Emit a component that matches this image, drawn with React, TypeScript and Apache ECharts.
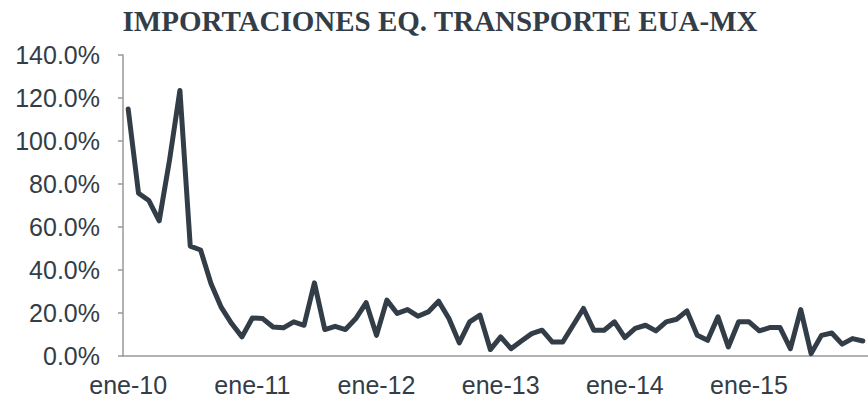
import React, { useEffect, useRef } from "react";
import * as echarts from "echarts";

const months = ["ene", "feb", "mar", "abr", "may", "jun", "jul", "ago", "sep", "oct", "nov", "dic"];
const years = ["10", "11", "12", "13", "14", "15"];
const categories: string[] = years.flatMap((y) => months.map((m) => `${m}-${y}`));

const values2010 = [114.9, 75.7, 72.3, 62.9, 91.2, 123.5, 51.1, 49.3, 33.7, 22.6, 15.1, 8.9];
const values2011 = [17.7, 17.4, 13.5, 13.1, 15.9, 14.3, 34.0, 12.3, 13.8, 12.3, 17.4, 24.8];
const values2012 = [9.6, 26.0, 19.8, 21.6, 18.5, 20.5, 25.5, 17.4, 6.1, 15.9, 19.0, 3.0];
const values2013 = [8.9, 3.4, 7.0, 10.4, 12.0, 6.5, 6.5, 14.3, 22.1, 12.0, 12.0, 15.9];
const values2014 = [8.6, 12.8, 14.3, 11.7, 15.9, 17.1, 21.0, 9.6, 7.3, 18.2, 4.2, 15.9];
const values2015 = [15.9, 11.7, 13.2, 13.2, 3.4, 21.6, 1.1, 9.6, 10.7, 5.5, 8.1, 7.0];
const values = [...values2010, ...values2011, ...values2012, ...values2013, ...values2014, ...values2015];

const yTicks = [0, 20, 40, 60, 80, 100, 120, 140];

const TITLE = "IMPORTACIONES EQ. TRANSPORTE EUA-MX";
const INK = "#333d47";

export default function App() {
  const ref = useRef<HTMLDivElement>(null);
  useEffect(() => {
    if (!ref.current) return;
    const chart = echarts.init(ref.current, undefined, { renderer: "svg" });
    chart.setOption({
      animation: false,
      backgroundColor: "#ffffff",
      graphic: [
        {
          type: "text",
          x: 440,
          y: 21,
          style: {
            text: TITLE,
            fill: INK,
            font: "bold 29px 'Liberation Serif', 'Times New Roman', serif",
            textAlign: "center",
            textVerticalAlign: "middle",
          },
        },
      ],
      grid: { left: 123, top: 55, width: 747, height: 301, containLabel: false },
      xAxis: {
        type: "category",
        data: categories,
        boundaryGap: true,
        axisLine: { lineStyle: { color: "#999999", width: 1.5 } },
        axisTick: { interval: 11, length: 5, lineStyle: { color: "#999999", width: 1.5 } },
        axisLabel: {
          interval: 11,
          margin: 16,
          color: INK,
          fontSize: 25,
          fontFamily: "'Liberation Sans', Arial, sans-serif",
        },
        splitLine: { show: false },
      },
      yAxis: {
        type: "value",
        min: yTicks[0],
        max: yTicks[yTicks.length - 1],
        interval: 20,
        axisLine: { show: true, lineStyle: { color: "#999999", width: 1.5 } },
        axisTick: { show: true, length: 5, lineStyle: { color: "#999999", width: 1.5 } },
        axisLabel: {
          margin: 23,
          color: INK,
          fontSize: 25,
          fontFamily: "'Liberation Sans', Arial, sans-serif",
          formatter: (v: number) => `${v.toFixed(1)}%`,
        },
        splitLine: { show: false },
      },
      series: [
        {
          type: "line",
          data: values,
          symbol: "none",
          lineStyle: { color: INK, width: 5, join: "round", cap: "round" },
        },
      ],
    });
    return () => chart.dispose();
  }, []);
  return (
    <div
      ref={ref}
      style={{ position: "fixed", left: 0, top: 0, width: 868, height: 401 }}
    />
  );
}
